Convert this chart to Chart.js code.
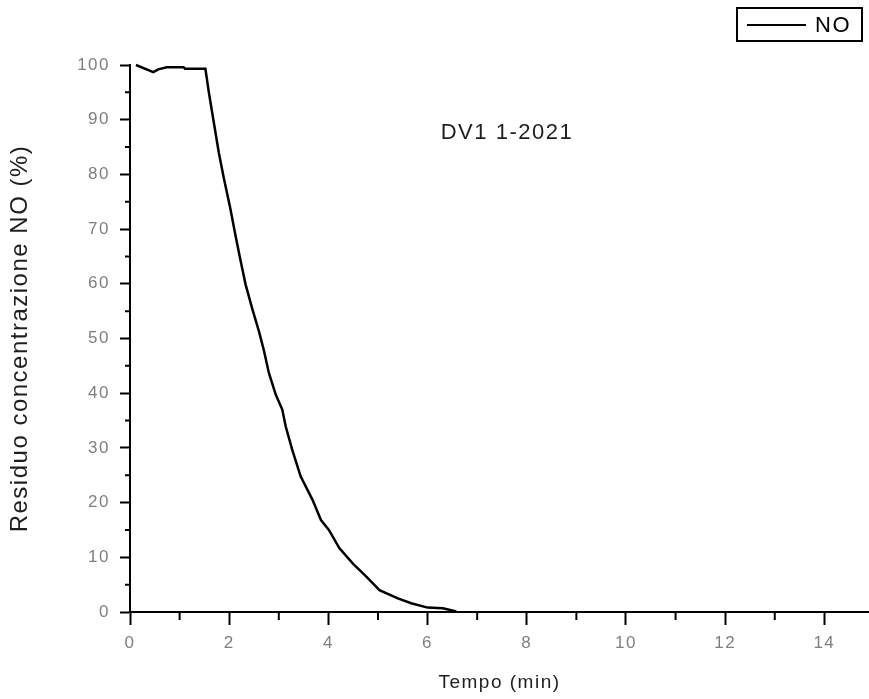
<!DOCTYPE html>
<html>
<head>
<meta charset="utf-8">
<script src="https://cdn.jsdelivr.net/npm/chart.js@4/dist/chart.umd.min.js"></script>
<style>
  html, body { margin: 0; padding: 0; background: #fff; }
  #box { width: 869px; height: 699px; }
</style>
</head>
<body>
<div id="box"><canvas id="grafico" width="869" height="699"></canvas></div>
<script>
// dati
let tempo = [0.12, 0.47, 0.57, 0.74, 1.08, 1.11, 1.52, 1.59, 1.69, 1.79, 1.89, 2.02, 2.13, 2.23, 2.33, 2.46, 2.6, 2.7, 2.8, 2.94, 3.07, 3.14, 3.27, 3.44, 3.68, 3.85, 4.01, 4.22, 4.49, 4.76, 5.03, 5.4, 5.67, 6.0, 6.31, 6.58];
let residuoNO = [100, 98.7, 99.2, 99.6, 99.6, 99.3, 99.3, 95, 89.5, 84, 79.4, 73.9, 68.7, 64.2, 59.9, 55.6, 51.3, 47.8, 43.7, 39.7, 37, 33.9, 29.7, 24.8, 20.5, 16.8, 15, 11.7, 8.9, 6.5, 4.0, 2.5, 1.6, 0.8, 0.7, 0.1];
let tickX = [0, 2, 4, 6, 8, 10, 12, 14];
let tickY = [0, 10, 20, 30, 40, 50, 60, 70, 80, 90, 100];
let annotazione = ["DV1 1-2021", 7.6, 87.5];

let punti = tempo.map((t, i) => ({ x: t, y: residuoNO[i] }));
let spaziatura = "1.5px";

// tacche secondarie, annotazione e legenda con bordo
let extra = {
    id: "extra",
    beforeLayout(chart) { chart.ctx.letterSpacing = spaziatura; },
    beforeDraw(chart) { chart.ctx.letterSpacing = spaziatura; },
    afterDraw(chart) {
        let ctx = chart.ctx;
        let sx = chart.scales.x;
        let sy = chart.scales.y;
        ctx.save();
        ctx.strokeStyle = "#000";
        ctx.lineWidth = 2;
        ctx.beginPath();
        for (let i = 1; i < tickX[tickX.length - 1]; i += 2) {
            let px = sx.getPixelForValue(i);
            ctx.moveTo(px, sx.top);
            ctx.lineTo(px, sx.top + 8);
        }
        for (let i = 5; i < 100; i += 10) {
            let py = sy.getPixelForValue(i);
            ctx.moveTo(sy.right - 5, py);
            ctx.lineTo(sy.right, py);
        }
        ctx.stroke();

        ctx.letterSpacing = spaziatura;
        ctx.fillStyle = "#1e1e1e";
        ctx.font = "22px 'Liberation Sans', Arial, sans-serif";
        ctx.textAlign = "center";
        ctx.textBaseline = "middle";
        ctx.fillText(annotazione[0], sx.getPixelForValue(annotazione[1]), sy.getPixelForValue(annotazione[2]));

        // legenda
        ctx.strokeRect(737, 8, 125, 33);
        ctx.beginPath();
        ctx.moveTo(747, 25);
        ctx.lineTo(806, 25);
        ctx.stroke();
        ctx.textAlign = "left";
        ctx.fillStyle = "#000";
        ctx.fillText(chart.data.datasets[0].label, 815, 26);
        ctx.restore();
    }
};

let ctx = document.getElementById("grafico").getContext("2d");

let grafico = new Chart(ctx, {
    type: "line",
    data: {
        datasets: [{
            label: "NO",
            data: punti,
            borderColor: "#000",
            backgroundColor: "#000",
            borderWidth: 2.5,
            pointRadius: 0,
            tension: 0,
            clip: false
        }]
    },
    options: {
        responsive: false,
        animation: false,
        layout: { padding: { top: 65, right: 0, left: 0, bottom: 0 } },
        plugins: {
            legend: { display: false },
            tooltip: { enabled: false }
        },
        scales: {
            x: {
                type: "linear",
                position: "bottom",
                min: 0,
                max: 14.9,
                afterFit(scale) { scale.height = 87; },
                afterBuildTicks(scale) { scale.ticks = tickX.map(v => ({ value: v })); },
                ticks: {
                    color: "#7f7f7f",
                    font: { family: "'Liberation Sans', Arial, sans-serif", size: 17 },
                    padding: 8,
                    maxRotation: 0
                },
                grid: {
                    drawOnChartArea: false,
                    tickLength: 13,
                    tickColor: "#000",
                    tickWidth: 2
                },
                border: { color: "#000", width: 2 },
                title: {
                    display: true,
                    text: "Tempo (min)",
                    color: "#1e1e1e",
                    font: { family: "'Liberation Sans', Arial, sans-serif", size: 19 },
                    padding: { top: 0, bottom: 5 }
                }
            },
            y: {
                type: "linear",
                min: 0,
                max: 100,
                afterFit(scale) { scale.width = 130; },
                afterBuildTicks(scale) { scale.ticks = tickY.map(v => ({ value: v })); },
                ticks: {
                    color: "#7f7f7f",
                    font: { family: "'Liberation Sans', Arial, sans-serif", size: 17 },
                    padding: 10
                },
                grid: {
                    drawOnChartArea: false,
                    tickLength: 10,
                    tickColor: "#000",
                    tickWidth: 2
                },
                border: { color: "#000", width: 2 },
                title: {
                    display: true,
                    text: "Residuo concentrazione NO (%)",
                    color: "#1e1e1e",
                    font: { family: "'Liberation Sans', Arial, sans-serif", size: 24 },
                    padding: { top: 6, bottom: 0 }
                }
            }
        }
    },
    plugins: [extra]
});
</script>
</body>
</html>
